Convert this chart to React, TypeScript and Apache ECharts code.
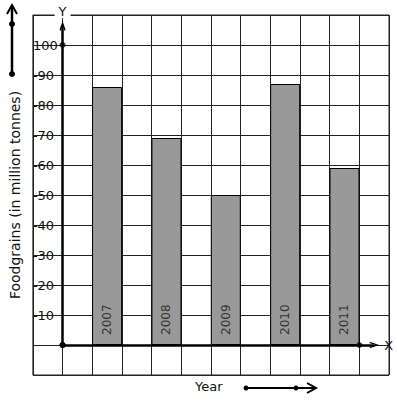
import React, { useEffect, useRef } from "react";
import * as echarts from "echarts";

const years = ["2007", "2008", "2009", "2010", "2011"];
const barPositions = [1.5, 3.5, 5.5, 7.5, 9.5];
const foodgrains = [86, 69, 50, 87, 59];
const yTickValues = [10, 20, 30, 40, 50, 60, 70, 80, 90, 100];
const yTickLabels = ["-10", "-20", "-30", "-40", "-50", "-60", "-70", "-80", "-90", "100"];
const axisDots = [[0, 100], [10, 0]];

const FONT = "DejaVu Sans";
const CHEVRON = "path://M5,0 L10,7.5 L8.4,8.6 L5,3.2 L1.6,8.6 L0,7.5 Z";

export default function App() {
  const ref = useRef<HTMLDivElement>(null);
  useEffect(() => {
    if (!ref.current) return;
    const chart = echarts.init(ref.current, null, { renderer: "svg" });
    const gridColor = "#222";
    chart.setOption({
      animation: false,
      backgroundColor: "#fff",
      textStyle: { fontFamily: FONT },
      grid: {
        left: 29,
        top: 15,
        width: 360,
        height: 360,
        show: true,
        borderColor: gridColor,
        borderWidth: 1,
      },
      xAxis: {
        type: "value",
        min: -1,
        max: 11,
        interval: 1,
        axisLine: { show: false },
        axisTick: { show: false },
        axisLabel: { show: false },
        splitLine: { show: true, lineStyle: { color: gridColor, width: 1 } },
      },
      yAxis: {
        type: "value",
        min: -10,
        max: 110,
        interval: 10,
        name: "Foodgrains (in million tonnes)",
        nameLocation: "middle",
        nameGap: 10,
        nameTextStyle: { fontFamily: FONT, fontSize: 14, color: "#111" },
        axisLine: { show: false },
        axisTick: { show: false },
        axisLabel: {
          inside: true,
          margin: 0,
          fontFamily: FONT,
          fontSize: 13,
          color: "#111",
          formatter: (v: number) => {
            const i = yTickValues.indexOf(v);
            return i >= 0 ? yTickLabels[i] : "";
          },
        },
        splitLine: { show: true, lineStyle: { color: gridColor, width: 1 } },
      },
      graphic: [
        { type: "line", shape: { x1: 12, y1: 74, x2: 12, y2: 6 }, style: { stroke: "#000", lineWidth: 2.5 } },
        { type: "polyline", shape: { points: [[7, 14], [12, 5], [17, 14]] }, style: { stroke: "#000", lineWidth: 2, fill: "none" } },
        { type: "circle", shape: { cx: 12, cy: 24, r: 3 }, style: { fill: "#000" } },
        { type: "circle", shape: { cx: 12, cy: 74, r: 3 }, style: { fill: "#000" } },
        { type: "text", x: 195, y: 386, style: { text: "Year", fontFamily: FONT, fontSize: 13, fill: "#111", verticalAlign: "middle" } },
        { type: "line", shape: { x1: 246, y1: 388, x2: 315, y2: 388 }, style: { stroke: "#000", lineWidth: 2 } },
        { type: "polyline", shape: { points: [[307, 383], [316, 388], [307, 393]] }, style: { stroke: "#000", lineWidth: 2, fill: "none" } },
        { type: "circle", shape: { cx: 246, cy: 388, r: 2.5 }, style: { fill: "#000" } },
        { type: "circle", shape: { cx: 296, cy: 388, r: 2.5 }, style: { fill: "#000" } },
      ],
      series: [
        {
          type: "bar",
          data: barPositions.map((x, i) => [x, foodgrains[i]]),
          barWidth: 30,
          itemStyle: { color: "#999", borderColor: "#000", borderWidth: 1 },
          label: {
            show: true,
            position: "insideBottom",
            rotate: 90,
            align: "left",
            verticalAlign: "middle",
            distance: 10,
            fontFamily: FONT,
            fontSize: 12,
            color: "#333",
            formatter: (p: any) => years[p.dataIndex],
          },
          z: 2,
        },
        {
          type: "scatter",
          data: axisDots,
          symbol: "circle",
          symbolSize: 6,
          itemStyle: { color: "#000" },
          z: 5,
          markLine: {
            silent: true,
            symbol: ["circle", CHEVRON],
            symbolSize: [6, 10],
            lineStyle: { color: "#000", width: 2.5, type: "solid" },
            label: { show: true, position: "end", fontFamily: FONT, fontSize: 13, color: "#111" },
            data: [
              [
                { coord: [0, 0] },
                { coord: [10.5, 0], label: { formatter: "X", distance: 10 } },
              ],
              [
                { coord: [0, 0] },
                {
                  coord: [0, 106.3],
                  label: {
                    formatter: "Y",
                    distance: 8,
                    backgroundColor: "#fff",
                    padding: [0, 4, 0, 4],
                  },
                },
              ],
            ],
          },
        },
      ],
    });
    return () => chart.dispose();
  }, []);
  return (
    <div
      ref={ref}
      style={{ position: "absolute", left: 0, top: 0, width: 397, height: 401, background: "#fff" }}
    />
  );
}
